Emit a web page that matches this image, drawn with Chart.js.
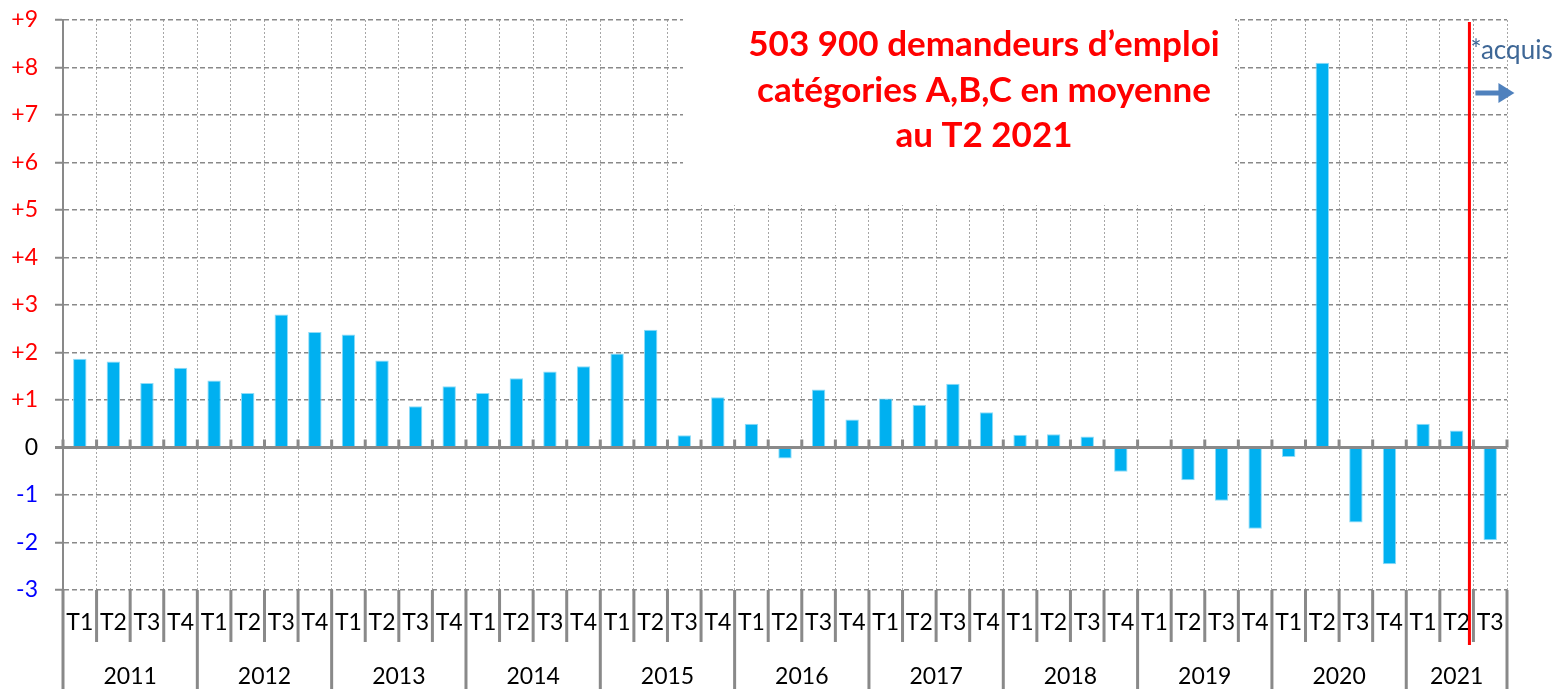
<!DOCTYPE html>
<html>
<head>
<meta charset="utf-8">
<script src="https://cdn.jsdelivr.net/npm/chart.js"></script>
<style>
  html, body { margin: 0; padding: 0; background: #fff; }
</style>
</head>
<body>
<canvas id="bar-chart" width="1558" height="689"></canvas>
<script>
// quarterly change (%) of job seekers, categories A,B,C
const quarters = [
  'T1','T2','T3','T4', 'T1','T2','T3','T4', 'T1','T2','T3','T4',
  'T1','T2','T3','T4', 'T1','T2','T3','T4', 'T1','T2','T3','T4',
  'T1','T2','T3','T4', 'T1','T2','T3','T4', 'T1','T2','T3','T4',
  'T1','T2','T3','T4', 'T1','T2','T3'
];
const years = ['2011','2012','2013','2014','2015','2016','2017','2018','2019','2020','2021'];
const values = [
  1.87, 1.81, 1.36, 1.68,
  1.41, 1.15, 2.80, 2.43,
  2.38, 1.83, 0.87, 1.29,
  1.15, 1.46, 1.60, 1.71,
  1.98, 2.48, 0.26, 1.06,
  0.50, -0.23, 1.22, 0.59,
  1.03, 0.90, 1.34, 0.74,
  0.27, 0.28, 0.23, -0.51,
  0.00, -0.69, -1.12, -1.71,
  -0.20, 8.10, -1.58, -2.46,
  0.50, 0.36, -1.95
];
const yTicks = [-3, -2, -1, 0, 1, 2, 3, 4, 5, 6, 7, 8, 9];
const titleLines = ['503 900 demandeurs d\u2019emploi', 'cat\u00e9gories A,B,C en moyenne', 'au T2 2021'];
const acquisLabel = '*acquis';

const GRAY = '#898989';
const FONT = 'Lato, Carlito, sans-serif';

const overlay = {
  id: 'overlay',
  afterDraw(chart) {
    const {ctx, chartArea: a, scales: {x, y}} = chart;
    const w = x.getPixelForValue(1) - x.getPixelForValue(0);
    const edge = i => x.getPixelForValue(0) - w / 2 + i * w;
    const y0 = y.getPixelForValue(0);
    ctx.save();

    // white box behind the title hides the grid (no bars up there)
    ctx.fillStyle = '#fff';
    ctx.fillRect(683, 0, 552, 205);

    // zero line with small ticks
    ctx.strokeStyle = GRAY;
    ctx.lineWidth = 3;
    ctx.beginPath();
    ctx.moveTo(a.left - 8, y0);
    ctx.lineTo(a.right, y0);
    ctx.stroke();
    ctx.beginPath();
    for (let i = 0; i <= quarters.length; i++) {
      ctx.moveTo(edge(i), y0 - 8);
      ctx.lineTo(edge(i), y0);
    }
    ctx.stroke();

    // separators below the axis: short ones between quarters, long ones between years
    let start = 0;
    const groups = [];
    quarters.forEach((q, i) => {
      if (q === 'T1' && i > 0) { groups.push([start, i]); start = i; }
    });
    groups.push([start, quarters.length]);
    ctx.lineWidth = 3;
    ctx.beginPath();
    for (let i = 0; i <= quarters.length; i++) {
      const isYear = i === 0 || i === quarters.length || quarters[i] === 'T1';
      ctx.moveTo(edge(i), a.bottom);
      ctx.lineTo(edge(i), isYear ? 689 : 642);
    }
    ctx.stroke();

    ctx.fillStyle = '#000';
    ctx.font = '23px ' + FONT;
    ctx.textAlign = 'center';
    ctx.textBaseline = 'middle';
    groups.forEach((g, k) => {
      ctx.fillText(years[k], (edge(g[0]) + edge(g[1])) / 2, 677);
    });

    // red separator before the last quarter
    const rx = edge(quarters.length - 1) - 4;
    ctx.strokeStyle = '#ff0000';
    ctx.lineWidth = 3;
    ctx.beginPath();
    ctx.moveTo(rx, a.top + 2);
    ctx.lineTo(rx, 645);
    ctx.stroke();

    // *acquis + arrow
    ctx.fillStyle = '#3e6796';
    ctx.font = '26px ' + FONT;
    ctx.textAlign = 'left';
    ctx.fillText(acquisLabel, rx + 1, 51);
    ctx.strokeStyle = '#4f81bd';
    ctx.fillStyle = '#4f81bd';
    ctx.lineWidth = 5;
    ctx.beginPath();
    ctx.moveTo(rx + 6, 93);
    ctx.lineTo(rx + 30, 93);
    ctx.stroke();
    ctx.beginPath();
    ctx.moveTo(rx + 45, 93);
    ctx.lineTo(rx + 29, 83);
    ctx.lineTo(rx + 29, 103);
    ctx.closePath();
    ctx.fill();

    // title
    ctx.fillStyle = '#ff0000';
    ctx.font = 'bold 35px ' + FONT;
    ctx.textAlign = 'center';
    titleLines.forEach((t, i) => ctx.fillText(t, 984, 45 + i * 45.5));
    ctx.restore();
  }
};

new Chart(document.getElementById('bar-chart'), {
  type: 'bar',
  data: {
    labels: quarters,
    datasets: [{
      data: values,
      backgroundColor: '#00b0f0',
      borderColor: '#8fdcf7',
      borderWidth: 1,
      categoryPercentage: 1,
      barPercentage: 0.4
    }]
  },
  options: {
    responsive: false,
    animation: false,
    layout: { padding: { top: 20, right: 51, left: 0, bottom: 0 } },
    plugins: {
      legend: { display: false },
      tooltip: { enabled: false }
    },
    scales: {
      x: {
        afterFit: s => { s.height = 99; s.paddingLeft = 0; s.paddingRight = 0; },
        grid: {
          color: '#a6a6a6',
          lineWidth: 1,
          drawTicks: false
        },
        border: { display: false, dash: [2, 2] },
        ticks: {
          color: '#000',
          font: { family: FONT, size: 23 },
          padding: 19,
          maxRotation: 0,
          autoSkip: false
        }
      },
      y: {
        min: -3,
        max: 9,
        afterFit: s => { s.width = 63; s.paddingTop = 0; s.paddingBottom = 0; },
        afterBuildTicks: s => { s.ticks = yTicks.map(v => ({value: v})); },
        grid: {
          color: ctx => ctx.tick && ctx.tick.value === 0 ? 'rgba(0,0,0,0)' : GRAY,
          lineWidth: 1.5,
          tickLength: 8,
          tickColor: GRAY,
          tickWidth: 2,
          tickBorderDash: []
        },
        border: { display: true, color: GRAY, width: 2, dash: [5, 3] },
        ticks: {
          padding: 17,
          font: { family: FONT, size: 23 },
          color: ctx => ctx.tick.value > 0 ? '#ff0000' : (ctx.tick.value < 0 ? '#0000ff' : '#000'),
          callback: v => v > 0 ? '+' + v : String(v)
        }
      }
    }
  },
  plugins: [overlay]
});
</script>
</body>
</html>
